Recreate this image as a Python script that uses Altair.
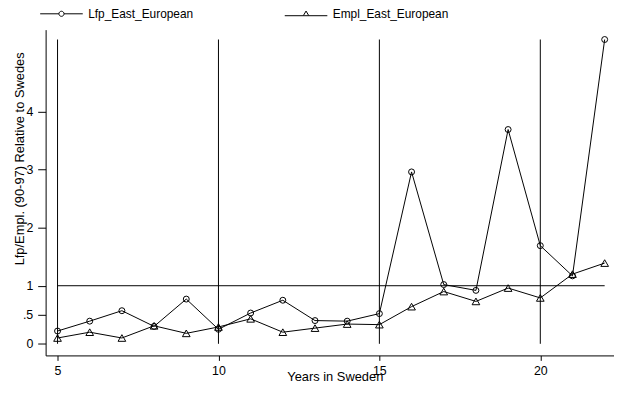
import altair as alt
import pandas as pd

years = list(range(5, 23))
lfp = [0.22, 0.39, 0.57, 0.30, 0.77, 0.25, 0.53, 0.75, 0.40, 0.39, 0.52,
       2.96, 1.02, 0.92, 3.69, 1.69, 1.17, 5.24]
empl = [0.10, 0.20, 0.10, 0.31, 0.18, 0.29, 0.43, 0.20, 0.27, 0.34, 0.33,
        0.64, 0.90, 0.73, 0.96, 0.79, 1.20, 1.39]
series_names = ["Lfp_East_European", "Empl_East_European"]

vline_years = [5, 10, 15, 20]
vline_top = 5.24
hline_value = 1
y_ticks = [0, 0.5, 1, 2, 3, 4]
x_ticks = [5, 10, 15, 20]

df = pd.DataFrame({
    "year": years * 2,
    "value": lfp + empl,
    "series": [series_names[0]] * len(years) + [series_names[1]] * len(years),
})
vdf = pd.DataFrame({"x": vline_years, "y": [0] * len(vline_years), "y2": [vline_top] * len(vline_years)})
hdf = pd.DataFrame({"x": [years[0]], "x2": [years[-1]], "y": [hline_value]})

FONT = "Liberation Sans"
xscale = alt.Scale(domain=[4.63, 22.29], nice=False, zero=False)
yscale = alt.Scale(domain=[-0.2, 5.41], nice=False, zero=False)

xaxis = alt.Axis(values=x_ticks, title="Years in Sweden", grid=False, tickSize=5,
                 labelPadding=4, labelFontSize=12.5, titleFontSize=13,
                 titleFontWeight="normal", titleY=25, titleBaseline="alphabetic",
                 titleX=292)
yaxis = alt.Axis(values=y_ticks, title="Lfp/Empl. (90-97) Relative to Swedes", grid=False,
                 tickSize=8, labelPadding=5, labelFontSize=12.5, format="~g",
                 labelExpr="datum.value == 0.5 ? '.5' : datum.label",
                 titleFontSize=13, titleFontWeight="normal", titleAngle=270,
                 titleAlign="center", titleBaseline="middle", titleX=-26, titleY=130)

base = alt.Chart(df)

vrules = alt.Chart(vdf).mark_rule(color="black", strokeWidth=1).encode(
    x=alt.X("x:Q", scale=xscale, axis=xaxis),
    y=alt.Y("y:Q", scale=yscale, axis=yaxis),
    y2="y2:Q",
)
hrule = alt.Chart(hdf).mark_rule(color="black", strokeWidth=1).encode(
    x=alt.X("x:Q", scale=xscale), x2="x2:Q", y=alt.Y("y:Q", scale=yscale)
)
lines = base.mark_line(color="black", strokeWidth=1).encode(
    x=alt.X("year:Q", scale=xscale),
    y=alt.Y("value:Q", scale=yscale),
    detail="series:N",
)
circles = base.transform_filter(alt.datum.series == series_names[0]).mark_point(
    shape="circle", filled=False, color="black", size=36, strokeWidth=1, opacity=1
).encode(x=alt.X("year:Q", scale=xscale), y=alt.Y("value:Q", scale=yscale))
tris = base.transform_filter(alt.datum.series == series_names[1]).mark_point(
    shape="triangle-up", filled=False, color="black", size=60, strokeWidth=1, opacity=1
).encode(x=alt.X("year:Q", scale=xscale), y=alt.Y("value:Q", scale=yscale))

circle_path = ("M-1,0H-0.12M0.12,0H1M0.12,0A0.12,0.12 0 1,1 -0.12,0"
               "A0.12,0.12 0 1,1 0.12,0")
tri_path = "M-1,0.09H-0.13M0.13,0.09H1M-0.13,0.09L0,-0.13L0.13,0.09Z"

legend_layer = base.mark_point(opacity=0, color="black").encode(
    x=alt.X("year:Q", scale=xscale),
    y=alt.Y("value:Q", scale=yscale),
    shape=alt.Shape(
        "series:N",
        scale=alt.Scale(domain=series_names, range=[circle_path, tri_path]),
        legend=alt.Legend(
            title=None, orient="none", direction="horizontal", legendX=-6, legendY=-38,
            symbolSize=1849, symbolStrokeColor="black", symbolFillColor="transparent",
            symbolStrokeWidth=1, symbolOpacity=1, labelFontSize=12, labelFont=FONT,
            labelColor="black", labelOffset=5, columnPadding=89, padding=0,
        ),
    ),
)

chart = alt.layer(vrules, hrule, lines, circles, tris, legend_layer).properties(
    width=574, height=329,
    autosize=alt.AutoSizeParams(type="none"),
    padding={"left": 38, "top": 20, "right": 0, "bottom": 26},
    background="white",
).configure_view(stroke=None).configure_axis(
    domainColor="black", tickColor="black", labelColor="black", titleColor="black",
    labelFont=FONT, titleFont=FONT, domainWidth=1, tickWidth=1,
)

chart.save("out.html", embed_options={"renderer": "svg", "actions": False})
